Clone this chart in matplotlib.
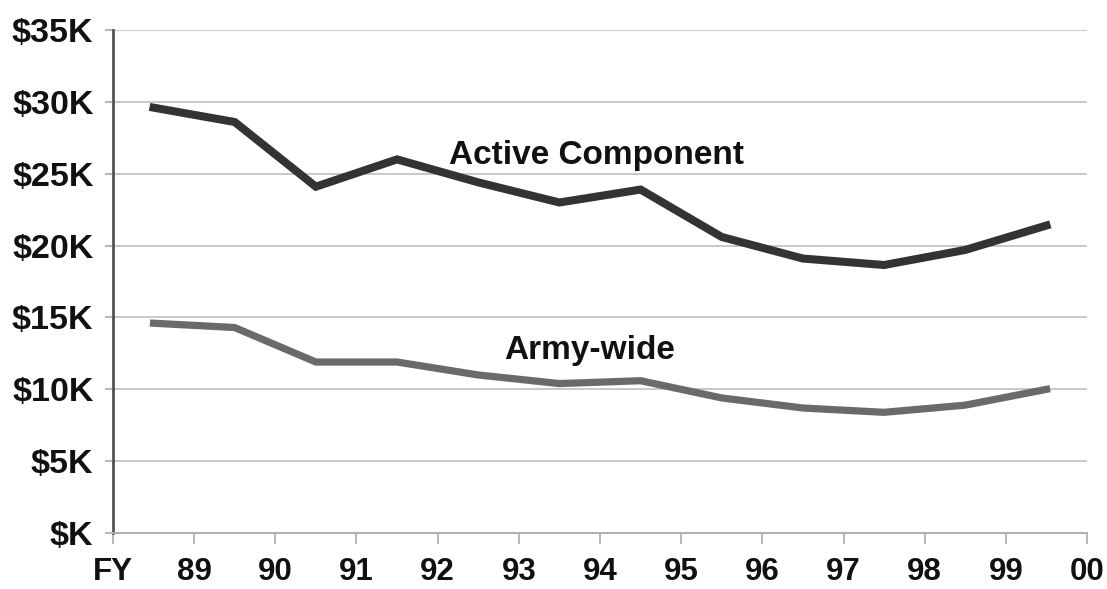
import matplotlib
matplotlib.use("Agg")
import matplotlib.pyplot as plt
from matplotlib.ticker import FuncFormatter

plt.rcParams['font.family'] = ['Liberation Sans', 'DejaVu Sans']
plt.rcParams['font.weight'] = 'bold'

# fiscal years (one value per year, drawn at the middle of each category)
years = ["89", "90", "91", "92", "93", "94", "95", "96", "97", "98", "99", "00"]
active = [29.6, 28.6, 24.1, 26.0, 24.4, 23.0, 23.9, 20.6, 19.1, 18.65, 19.7, 21.4]
army_wide = [14.6, 14.3, 11.9, 11.9, 11.0, 10.4, 10.6, 9.4, 8.7, 8.4, 8.9, 10.0]
tick_labels = ["FY"] + years
y_ticks = [0, 5, 10, 15, 20, 25, 30, 35]

fig = plt.figure(figsize=(11.07, 5.89), dpi=100)
ax = fig.add_axes([0.102, 0.095, 0.880, 0.854])

xs = range(len(years))
ax.plot(xs, active, color="#333333", lw=5.8, solid_joinstyle="miter", zorder=3)
ax.plot(xs, army_wide, color="#6a6a6a", lw=5.2, solid_joinstyle="miter", zorder=3)

ax.text(3.64, 26.3, "Active Component", fontsize=24, fontweight="bold",
        va="center", ha="left", color="#111111")
ax.text(4.32, 12.7, "Army-wide", fontsize=24, fontweight="bold",
        va="center", ha="left", color="#111111")

ax.set_xlim(-0.5, len(years) - 0.5)
ax.set_ylim(0, 35)
ax.set_xticks([i - 0.5 for i in range(len(tick_labels))])
ax.set_xticklabels(tick_labels)
ax.set_yticks(y_ticks)
ax.yaxis.set_major_formatter(FuncFormatter(lambda v, p: "$%dK" % v if v else "$K"))

ax.grid(axis="y", color="#c4c4c4", lw=1.3)
ax.set_axisbelow(True)
for s in ["top", "right"]:
    ax.spines[s].set_visible(False)
ax.spines["left"].set_color("#555555")
ax.spines["left"].set_linewidth(2.0)
ax.spines["bottom"].set_color("#b0b0b0")
ax.spines["bottom"].set_linewidth(1.5)

ax.tick_params(axis="y", length=6, width=1.2, color="#aaaaaa", pad=8,
               labelsize=24.5, labelcolor="#111111")
ax.tick_params(axis="x", length=8, width=1.2, color="#aaaaaa", pad=9,
               labelsize=22.5, labelcolor="#111111")

fig.savefig("out.png", dpi=100)
